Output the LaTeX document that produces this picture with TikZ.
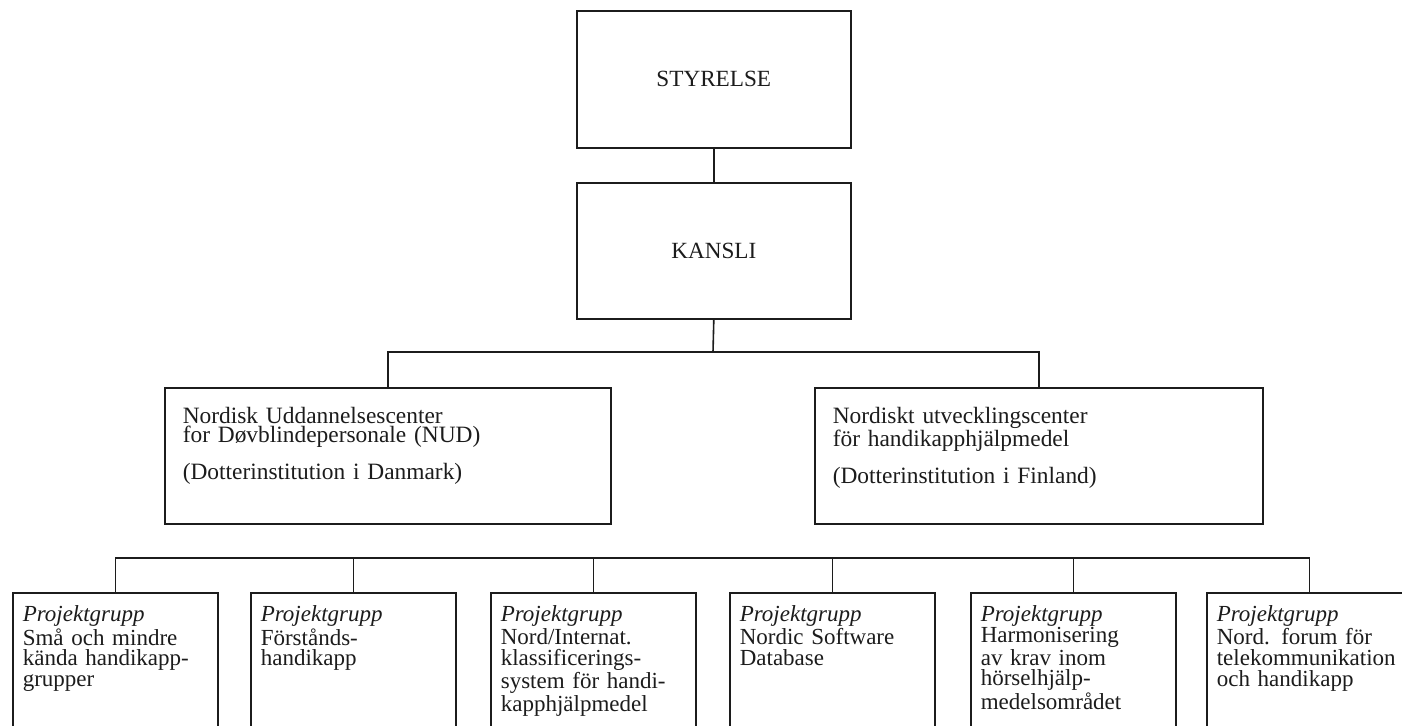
\documentclass[tikz,border=0pt]{standalone}
\usepackage{fontspec}
\setmainfont{Liberation Serif}
\definecolor{ink}{RGB}{28,28,28}
\lineskiplimit=-100pt
\begin{document}
\begin{tikzpicture}[x=0.5pt,y=-0.5pt,line width=0.8pt,
  every node/.style={text=ink},
  conn/.style={draw=ink,line width=0.8pt},
  topbox/.style={draw=ink,line width=0.8pt,anchor=north west,inner sep=0pt,
    minimum width=137pt,minimum height=#1,align=center,
    font=\fontsize{11.6pt}{10pt}\selectfont},
  midbox/.style={draw=ink,line width=0.8pt,anchor=north west,inner ysep=0pt,
    inner xsep=9pt,text width=#1,align=left,text height=17.7pt,text depth=50.3pt,
    font=\fontsize{11.7pt}{9.9pt}\selectfont},
  projbox/.style={draw=ink,line width=0.8pt,anchor=north west,inner ysep=0pt,
    inner xsep=5pt,text width=92.5pt,align=left,text height=14.5pt,text depth=69.5pt,
    font=\fontsize{11.5pt}{10.3pt}\selectfont}]
\useasboundingbox (0,0) rectangle (1402,726);
\clip (0,0) rectangle (1402,726);
\fill[white] (0,0) rectangle (1402,726);

% top boxes
\node[topbox=68.5pt] (styrelse) at (576,10) {STYRELSE};
\node[topbox=68pt] (kansli) at (576,182) {KANSLI};

% daughter institutions
\node[midbox=205pt] (nud) at (164,387)
  {Nordisk Uddannelsescenter\\for Døvblindepersonale (NUD)\\[6.8pt](Dotterinstitution i Danmark)};
\node[midbox=206pt] (fin) at (814,387)
  {Nordiskt utvecklingscenter\\för handikapphjälpmedel\\[6.8pt](Dotterinstitution i Finland)};

% project groups
\node[projbox] (p1) at (12,592)
  {\textit{Projektgrupp}\\Små och mindre\\kända handikapp-\\grupper};
\node[projbox] (p2) at (250,592)
  {\textit{Projektgrupp}\\Förstånds-\\handikapp};
\node[projbox] (p3) at (490,592)
  {\textit{Projektgrupp}\\Nord/Internat.\\klassificerings-\\system för handi-\\kapphjälpmedel};
\node[projbox] (p4) at (729,592)
  {\textit{Projektgrupp}\\Nordic Software\\Database};
\node[projbox] (p5) at (970,592)
  {\textit{Projektgrupp}\\Harmonisering\\av krav inom\\hörselhjälp-\\medelsområdet};
\node[projbox] (p6) at (1206,592)
  {\textit{Projektgrupp}\\Nord. forum för\\telekommunikation\\och handikapp};

% connectors
\coordinate (busa) at (713,352);
\coordinate (busb) at (713,558);
\draw[conn] (styrelse.south) -- (kansli.north);
\draw[conn] (kansli.south) -- (busa);
\draw[conn] (nud.north) -- (nud.north |- busa) -- (fin.north |- busa) -- (fin.north);
\draw[conn] (p1.north) -- (p1.north |- busb) -- (p6.north |- busb) -- (p6.north);
\foreach \p in {p2,p3,p4,p5}
  \draw[conn] (\p.north) -- (\p.north |- busb);
\end{tikzpicture}
\end{document}
